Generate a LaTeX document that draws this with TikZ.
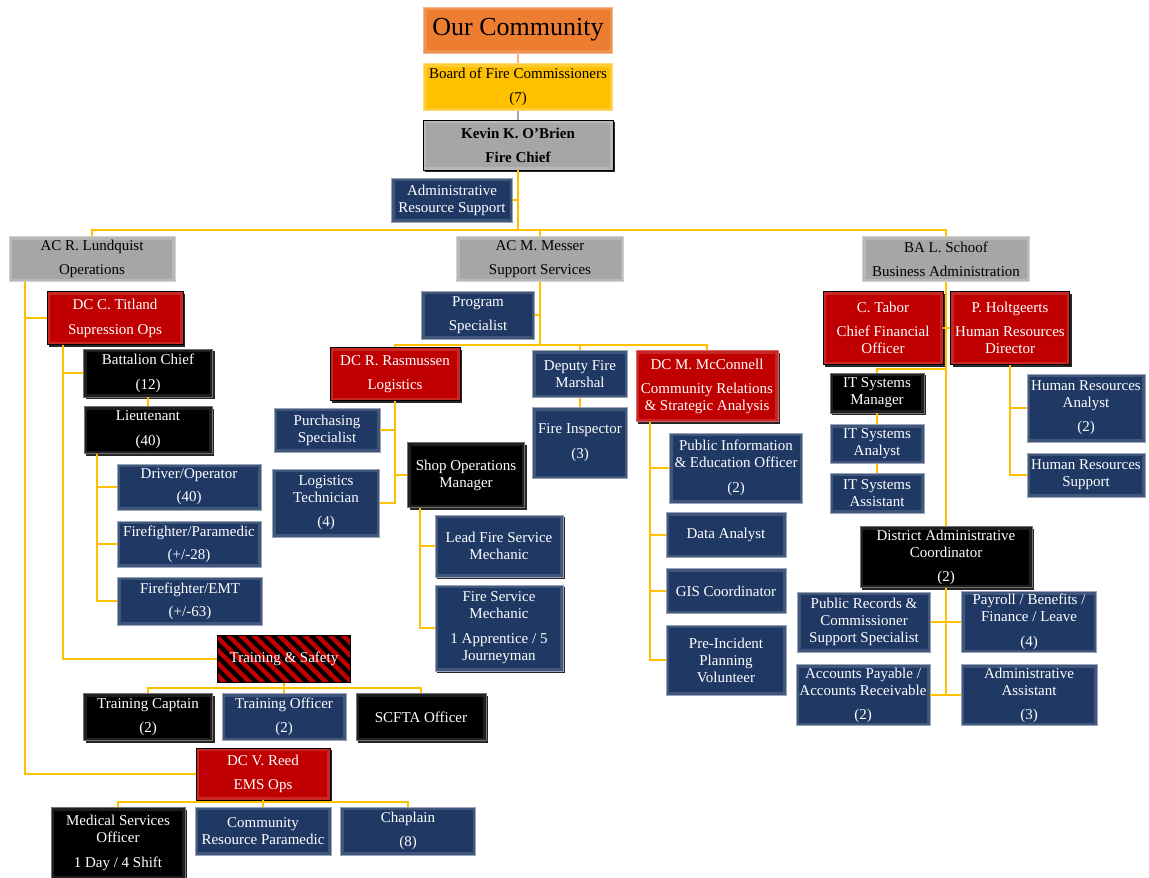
\documentclass[tikz,border=0pt]{standalone}
\usepackage{fontspec}
\setmainfont{Liberation Serif}
\usepackage{tikz}
\usetikzlibrary{shadows,patterns.meta}

\definecolor{orgnavy}{HTML}{1F3864}
\definecolor{orgred}{HTML}{C00000}
\definecolor{orggold}{HTML}{FFC000}
\definecolor{orgorange}{HTML}{ED7D31}
\definecolor{orggray}{HTML}{A6A6A6}
\definecolor{orgsalmon}{HTML}{F4B183}

\begin{document}
\begin{tikzpicture}[x=1pt, y=-1pt, font=\fontsize{15}{17}\selectfont,
    boxsize/.style 2 args={minimum width=#1pt, minimum height=#2pt, inner sep=0pt, align=center},
    bevel/.style={path picture={\draw[#1, line width=6pt] (path picture bounding box.north west) rectangle (path picture bounding box.south east);}},
    castshadow/.style={drop shadow={shadow xshift=2pt, shadow yshift=-2pt, fill=black!85, opacity=1}},
    navybox/.style={fill=orgnavy, draw=orgnavy!45!white, line width=0.8pt, text=white, bevel=orgnavy!85!white},
    redbox/.style={fill=orgred, draw=black, line width=0.8pt, text=white, castshadow, bevel=orgred!85!white},
    blackbox/.style={fill=black, draw=black!55, line width=0.8pt, text=white, castshadow, bevel=black!88!white},
    graybox/.style={fill=orggray, draw=orggray!50!white, line width=0.8pt, bevel=orggray!80!white},
    goldbox/.style={fill=orggold, draw=orggold!55!white, line width=0.8pt, bevel=orggold!80!white},
    orangebox/.style={fill=orgorange, draw=orgorange!55!white, line width=0.8pt, bevel=orgorange!85!white},
    hatchbox/.style={preaction={fill=black}, pattern={Lines[angle=-45,distance=9pt,line width=4.5pt]}, pattern color=orgred, draw=black, line width=0.8pt, text=white},
    link/.style={draw=orggold, line width=2pt}]

    \path[use as bounding box, fill=white] (0,0) rectangle (1149,878);

    \node[orangebox, boxsize={189}{46}, font=\fontsize{26}{28}\selectfont] (comm) at (518,30) {Our Community};
    \node[goldbox, boxsize={189}{47}] (board) at (518,87) {Board of Fire Commissioners\\[7pt](7)};
    \node[graybox, draw=black, castshadow, boxsize={190}{50}, font=\fontsize{15}{17}\selectfont\bfseries] (chief) at (518,145) {Kevin K. O'Brien\\[7pt]Fire Chief};
    \node[navybox, boxsize={121}{44}] (ars) at (452,200) {Administrative\\Resource Support};

    \node[graybox, boxsize={166}{45}] (lund) at (92,259) {AC R. Lundquist\\[7pt]Operations};
    \node[graybox, boxsize={167}{45}] (messer) at (540,259) {AC M. Messer\\[7pt]Support Services};
    \node[graybox, boxsize={167}{45}] (schoof) at (946,259) {BA L. Schoof\\[7pt]Business Administration};

    \node[redbox, boxsize={136}{53}] (titland) at (115,318) {DC C. Titland\\[8pt]Supression Ops};
    \node[blackbox, boxsize={129}{48}] (bc) at (148,373) {Battalion Chief\\[8pt](12)};
    \node[blackbox, boxsize={128}{47}] (lt) at (148,430) {Lieutenant\\[8pt](40)};
    \node[navybox, boxsize={144}{46}] (driver) at (189,487) {Driver/Operator\\[6pt](40)};
    \node[navybox, boxsize={144}{46}] (ffpara) at (189,544) {Firefighter/Paramedic\\[6pt](+/-28)};
    \node[navybox, boxsize={145}{48}] (ffemt) at (190,601) {Firefighter/EMT\\[6pt](+/-63)};
    \node[hatchbox, boxsize={133}{47}] (safety) at (284,659) {Training \& Safety};
    \node[blackbox, boxsize={129}{47}] (tcapt) at (148,717) {Training Captain\\[7pt](2)};
    \node[navybox, boxsize={124}{47}] (toff) at (284,717) {Training Officer\\[7pt](2)};
    \node[blackbox, boxsize={130}{47}] (scfta) at (421,717) {SCFTA Officer};
    \node[redbox, boxsize={134}{52}] (reed) at (263,774) {DC V. Reed\\[7pt]EMS Ops};
    \node[blackbox, boxsize={134}{71}] (mso) at (118,843) {Medical Services\\Officer\\[8pt]1 Day / 4 Shift};
    \node[navybox, boxsize={136}{48}] (crp) at (263,831) {Community\\Resource Paramedic};
    \node[navybox, boxsize={135}{48}] (chap) at (408,831) {Chaplain\\[7pt](8)};

    \node[navybox, boxsize={113}{48}] (prog) at (478,315) {Program\\[7pt]Specialist};
    \node[redbox, boxsize={130}{53}] (rasm) at (395,374) {DC R. Rasmussen\\[7pt]Logistics};
    \node[navybox, boxsize={106}{44}] (purch) at (327,430) {Purchasing\\Specialist};
    \node[navybox, boxsize={107}{68}] (logtech) at (326,503) {Logistics\\Technician\\[7pt](4)};
    \node[blackbox, boxsize={117}{65}] (shop) at (466,475) {Shop Operations\\Manager};
    \node[navybox, castshadow, boxsize={128}{62}] (lfsm) at (499,546) {Lead Fire Service\\Mechanic};
    \node[navybox, castshadow, boxsize={128}{86}] (fsm) at (499,628) {Fire Service\\Mechanic\\[8pt]1 Apprentice / 5\\Journeyman};
    \node[navybox, boxsize={95}{47}] (dfm) at (580,374) {Deputy Fire\\Marshal};
    \node[navybox, boxsize={95}{71}] (finsp) at (580,443) {Fire Inspector\\[8pt](3)};
    \node[redbox, draw=orgred!60!white, boxsize={142}{71}] (mcc) at (707,386) {DC M. McConnell\\[7pt]Community Relations\\\& Strategic Analysis};
    \node[navybox, boxsize={133}{70}] (pieo) at (736,468) {Public Information\\\& Education Officer\\[8pt](2)};
    \node[navybox, boxsize={120}{45}] (data) at (726,535) {Data Analyst};
    \node[navybox, boxsize={120}{45}] (gis) at (726,591) {GIS Coordinator};
    \node[navybox, boxsize={120}{70}] (pipv) at (726,660) {Pre-Incident\\Planning\\Volunteer};

    \node[redbox, boxsize={120}{73}] (tabor) at (883,328) {C. Tabor\\[7pt]Chief Financial\\Officer};
    \node[redbox, boxsize={119}{73}] (holt) at (1010,328) {P. Holtgeerts\\[7pt]Human Resources\\Director};
    \node[blackbox, boxsize={94}{40}] (itm) at (877,393) {IT Systems\\Manager};
    \node[navybox, boxsize={94}{39}] (ita) at (877,444) {IT Systems\\Analyst};
    \node[navybox, boxsize={94}{40}] (itasst) at (877,493) {IT Systems\\Assistant};
    \node[navybox, boxsize={118}{68}] (hra) at (1086,408) {Human Resources\\Analyst\\[7pt](2)};
    \node[navybox, boxsize={118}{44}] (hrs) at (1086,475) {Human Resources\\Support};
    \node[blackbox, boxsize={172}{61}] (dac) at (946,557) {District Administrative\\Coordinator\\[7pt](2)};
    \node[navybox, boxsize={133}{60}] (prc) at (864,622) {Public Records \&\\Commissioner\\Support Specialist};
    \node[navybox, boxsize={135}{61}] (payroll) at (1029,622) {Payroll / Benefits /\\Finance / Leave\\[8pt](4)};
    \node[navybox, boxsize={134}{61}] (apar) at (863,695) {Accounts Payable /\\Accounts Receivable\\[7pt](2)};
    \node[navybox, boxsize={136}{61}] (admasst) at (1029,695) {Administrative\\Assistant\\[7pt](3)};

    \draw[link, draw=orgsalmon] (comm) -- (board);
    \draw[link, draw=orggray] (board) -- (chief);
    \path (chief.south) ++(0,60) coordinate (chiefbar);
    \draw[link] (chief.south) -- (chiefbar);
    \draw[link] (ars.east) -- (ars.east -| chiefbar);
    \draw[link] (lund.north) |- (chiefbar) -| (schoof.north);
    \draw[link] (messer.north) -- (messer.north |- chiefbar);

    \coordinate (opsrail) at ([xshift=16pt]lund.south west);
    \draw[link] (opsrail) |- (reed.west);
    \draw[link] (titland.west) -- (titland.west -| opsrail);
    \coordinate (suprail) at ([xshift=16pt]titland.south west);
    \draw[link] (suprail) |- (safety.west);
    \draw[link] (bc.west) -- (bc.west -| suprail);
    \draw[link] (bc.south) -- (lt.north);
    \coordinate (ltrail) at ([xshift=13pt]lt.south west);
    \draw[link] (ltrail) |- (ffemt.west);
    \foreach \n in {driver,ffpara} \draw[link] (\n.west) -- (\n.west -| ltrail);
    \path (safety.south) ++(0,5) coordinate (trnbar);
    \draw[link] (safety.south) -- (trnbar);
    \draw[link] (tcapt.north) |- (trnbar) -| (scfta.north);
    \draw[link] (toff.north) -- (toff.north |- trnbar);
    \path (reed.south) ++(0,2) coordinate (emsbar);
    \draw[link] (reed.south) -- (emsbar);
    \draw[link] (mso.north) |- (emsbar) -| (chap.north);
    \draw[link] (crp.north) -- (crp.north |- emsbar);

    \path (messer.south) ++(0,63) coordinate (supbar);
    \draw[link] (messer.south) -- (supbar);
    \draw[link] (prog.east) -- (prog.east -| supbar);
    \draw[link] (rasm.north) |- (supbar) -| (mcc.north);
    \draw[link] (dfm.north) -- (dfm.north |- supbar);
    \draw[link] (dfm.south) -- (finsp.north);
    \draw[link] (rasm.south) |- (logtech.east);
    \draw[link] (purch.east) -- (purch.east -| rasm.south);
    \draw[link] (shop.west) -- (shop.west -| rasm.south);
    \coordinate (shoprail) at ([xshift=13pt]shop.south west);
    \draw[link] (shoprail) |- (fsm.west);
    \draw[link] (lfsm.west) -- (lfsm.west -| shoprail);
    \coordinate (mccrail) at ([xshift=14pt]mcc.south west);
    \draw[link] (mccrail) |- (pipv.west);
    \foreach \n in {pieo,data,gis} \draw[link] (\n.west) -- (\n.west -| mccrail);

    \draw[link] (schoof.south) -- (dac.north);
    \draw[link] (tabor.east) -- (holt.west);
    \path (schoof.south) ++(0,87) coordinate (itjoin);
    \draw[link] (itm.north) |- (itjoin);
    \draw[link] (itm.south) -- (ita.north);
    \draw[link] (ita.south) -- (itasst.north);
    \draw[link] (holt.south) |- (hrs.west);
    \draw[link] (hra.west) -- (hra.west -| holt.south);
    \draw[link] (prc.east) -- (payroll.west);
    \draw[link] (apar.east) -- (admasst.west);
    \draw[link] (dac.south) -- (dac.south |- apar.east);
\end{tikzpicture}
\end{document}
